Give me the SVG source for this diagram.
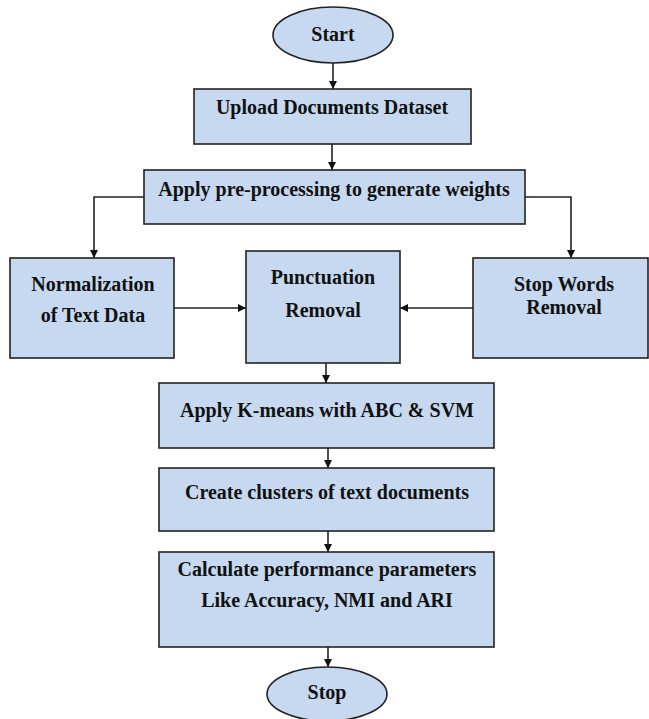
<svg xmlns="http://www.w3.org/2000/svg" width="649" height="719" viewBox="0 0 649 719">
<defs>
<style>
.box{fill:#c6d9f0;stroke:#222;stroke-width:1.6}
.t{font-family:'Liberation Serif','Times New Roman',Times,'DejaVu Serif',serif;font-weight:bold;font-size:20px;fill:#111;text-anchor:middle}
.c{fill:none;stroke:#222;stroke-width:1.6}
</style>
<marker id="ah" viewBox="0 0 10 10" refX="10" refY="5" markerWidth="8" markerHeight="8" markerUnits="userSpaceOnUse" orient="auto">
<path d="M0,0 L10,5 L0,10 Z" fill="#111"/>
</marker>
</defs>
<rect width="649" height="719" fill="#fff"/>
<g id="connectors">
<line class="c" x1="333" y1="63" x2="333" y2="89" marker-end="url(#ah)"/>
<line class="c" x1="332" y1="144" x2="332" y2="170" marker-end="url(#ah)"/>
<polyline class="c" points="144,197 94,197 94,258" marker-end="url(#ah)"/>
<polyline class="c" points="525,197 571,197 571,258" marker-end="url(#ah)"/>
<line class="c" x1="174" y1="308" x2="246" y2="308" marker-end="url(#ah)"/>
<line class="c" x1="473" y1="308" x2="400" y2="308" marker-end="url(#ah)"/>
<line class="c" x1="326" y1="363" x2="326" y2="383" marker-end="url(#ah)"/>
<line class="c" x1="328" y1="448" x2="328" y2="468" marker-end="url(#ah)"/>
<line class="c" x1="328" y1="531" x2="328" y2="552" marker-end="url(#ah)"/>
<line class="c" x1="328" y1="647" x2="328" y2="667" marker-end="url(#ah)"/>
</g>
<g id="start">
<ellipse class="box" cx="333" cy="35" rx="60" ry="28"/>
<text class="t" x="333" y="41" font-family="Liberation Serif, serif" font-size="19">Start</text>
</g>
<g id="upload">
<rect class="box" x="194" y="89" width="277" height="55"/>
<text class="t" x="332" y="114">Upload Documents Dataset</text>
</g>
<g id="preprocess">
<rect class="box" x="144" y="170" width="381" height="54"/>
<text class="t" x="334" y="196">Apply pre-processing to generate weights</text>
</g>
<g id="normalization">
<rect class="box" x="10" y="258" width="164" height="100"/>
<text class="t" x="93" y="291">Normalization</text>
<text class="t" x="93" y="322">of Text Data</text>
</g>
<g id="punctuation">
<rect class="box" x="246" y="251" width="154" height="112"/>
<text class="t" x="323" y="284">Punctuation</text>
<text class="t" x="323" y="317">Removal</text>
</g>
<g id="stopwords">
<rect class="box" x="473" y="258" width="175" height="100"/>
<text class="t" x="564" y="291">Stop Words</text>
<text class="t" x="564" y="314">Removal</text>
</g>
<g id="kmeans">
<rect class="box" x="159" y="383" width="335" height="65"/>
<text class="t" x="327" y="417">Apply K-means with ABC &amp; SVM</text>
</g>
<g id="clusters">
<rect class="box" x="159" y="468" width="335" height="63"/>
<text class="t" x="327" y="499">Create clusters of text documents</text>
</g>
<g id="calculate">
<rect class="box" x="159" y="552" width="335" height="95"/>
<text class="t" x="327" y="576">Calculate performance parameters</text>
<text class="t" x="327" y="607">Like Accuracy, NMI and ARI</text>
</g>
<g id="stop">
<ellipse class="box" cx="327" cy="694" rx="60" ry="27"/>
<text class="t" x="327" y="699">Stop</text>
</g>
</svg>
